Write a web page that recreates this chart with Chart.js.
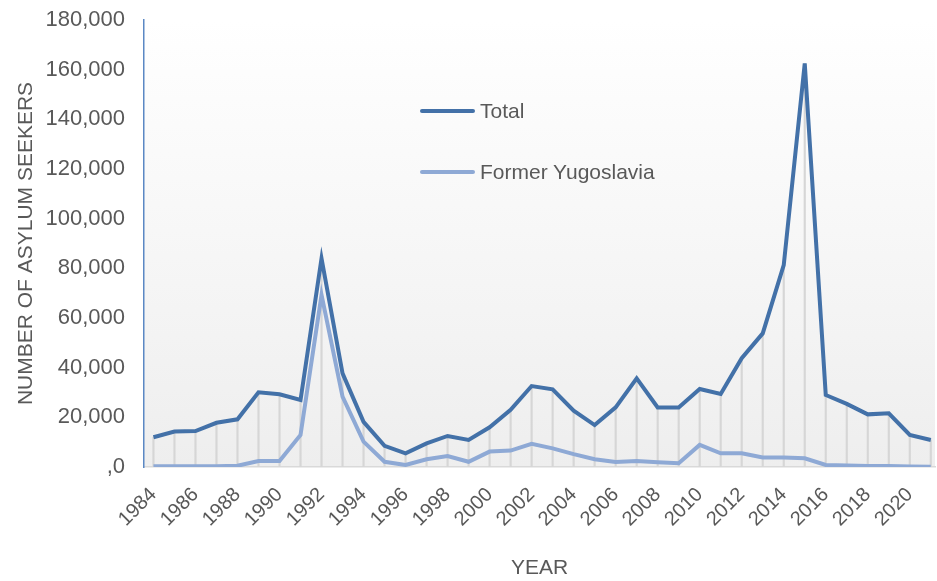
<!DOCTYPE html>
<html>
<head>
<meta charset="utf-8">
<script src="https://cdn.jsdelivr.net/npm/chart.js@4"></script>
<style>
  html, body { margin: 0; padding: 0; background: #fff; }
  #wrap { position: relative; width: 937px; height: 581px; }
  #legend { position: absolute; left: 420px; top: 0; font-family: "Liberation Sans", Arial, sans-serif; font-size: 21px; color: #595959; }
  .item { position: absolute; left: 0; white-space: nowrap; display: flex; align-items: center; }
  .swatch { display: inline-block; width: 55px; height: 4px; border-radius: 2px; margin-right: 5px; }
</style>
</head>
<body>
<div id="wrap">
  <canvas id="chart" width="937" height="581"></canvas>
  <div id="legend"></div>
</div>
<script>
// data
const years = [1984, 1985, 1986, 1987, 1988, 1989, 1990, 1991, 1992, 1993,
  1994, 1995, 1996, 1997, 1998, 1999, 2000, 2001, 2002, 2003,
  2004, 2005, 2006, 2007, 2008, 2009, 2010, 2011, 2012, 2013,
  2014, 2015, 2016, 2017, 2018, 2019, 2020, 2021]

const total = [12000, 14300, 14500, 17800, 19200, 30100, 29300, 27000, 84000, 37700,
  18200, 8500, 5500, 9500, 12500, 10900, 16000, 23000, 32600, 31300,
  22700, 16900, 24000, 35700, 24000, 24000, 31400, 29400, 43800, 53800,
  81300, 162500, 29000, 25400, 21200, 21600, 12900, 10900]

const yugoslavia = [300, 300, 300, 300, 500, 2400, 2400, 12900, 69300, 28300,
  10200, 2100, 800, 3100, 4400, 2100, 6200, 6600, 9300, 7500,
  5200, 3100, 2000, 2400, 1900, 1500, 8900, 5500, 5500, 3800,
  3800, 3500, 800, 600, 400, 400, 200, 100]

const tickYears = [1984, 1986, 1988, 1990, 1992, 1994, 1996, 1998, 2000, 2002,
  2004, 2006, 2008, 2010, 2012, 2014, 2016, 2018, 2020]

const seriesNames = ['Total', 'Former Yugoslavia']
const seriesColors = ['#4371a8', '#8ea9d5']

const font = "'Liberation Sans', Arial, sans-serif"
const grey = '#595959'

function points(vals) {
    return vals.map((v, i) => ({ x: years[i], y: v }))
}

// soft white-to-grey fill behind the plot
const plotBg = {
    id: 'plotBg',
    beforeDraw(chart) {
        const a = chart.chartArea
        const ctx = chart.ctx
        const g = ctx.createLinearGradient(0, a.top, 0, a.bottom)
        g.addColorStop(0, '#ffffff')
        g.addColorStop(1, '#eeeeee')
        ctx.save()
        ctx.fillStyle = g
        ctx.fillRect(a.left, a.top, a.right - a.left, a.bottom - a.top)
        ctx.restore()
    }
}

new Chart('chart', {
    type: 'line',
    data: {
        datasets: [
            {
                label: seriesNames[0],
                data: points(total),
                borderColor: seriesColors[0],
                borderWidth: 4,
                pointRadius: 0,
                tension: 0,
                order: 0
            },
            {
                label: seriesNames[1],
                data: points(yugoslavia),
                borderColor: seriesColors[1],
                borderWidth: 4,
                pointRadius: 0,
                tension: 0,
                order: 1
            },
            {
                // drop lines from Total to the axis
                type: 'bar',
                label: 'drop',
                data: points(total),
                backgroundColor: '#d6d6d6',
                barThickness: 1.5,
                order: 2
            }
        ]
    },
    options: {
        responsive: false,
        animation: false,
        layout: { padding: { top: 20, right: 2, left: 0, bottom: 0 } },
        plugins: {
            legend: { display: false },
            tooltip: { enabled: false }
        },
        scales: {
            x: {
                type: 'linear',
                offset: false,
                min: 1983.55,
                max: 2021.2,
                afterBuildTicks: (scale) => {
                    scale.ticks = tickYears.map(v => ({ value: v }))
                },
                afterFit: (scale) => {
                    scale.height = 114
                    scale.paddingLeft = 0
                    scale.paddingRight = 0
                },
                grid: { display: false, drawTicks: false, offset: false },
                border: { display: true, color: '#d9d9d9', width: 1.5 },
                ticks: {
                    autoSkip: false,
                    minRotation: 45,
                    maxRotation: 45,
                    padding: 16,
                    color: grey,
                    font: { family: font, size: 20 },
                    callback: (v) => String(v)
                },
                title: {
                    display: true,
                    text: 'YEAR',
                    color: grey,
                    font: { family: font, size: 21 },
                    padding: { top: 0, bottom: 0 }
                }
            },
            y: {
                min: 0,
                max: 180000,
                afterFit: (scale) => {
                    scale.width = 144
                    scale.paddingTop = 0
                    scale.paddingBottom = 0
                },
                grid: { display: false, drawTicks: false },
                border: { display: true, color: '#5b88c4', width: 1.5 },
                ticks: {
                    stepSize: 20000,
                    padding: 19,
                    color: grey,
                    font: { family: font, size: 22 },
                    callback: (v) => v === 0 ? ',0' : v.toLocaleString('en-US')
                },
                title: {
                    display: true,
                    text: 'NUMBER OF ASYLUM SEEKERS',
                    color: grey,
                    font: { family: font, size: 21 },
                    padding: { top: 14, bottom: 0 }
                }
            }
        }
    },
    plugins: [plotBg]
})

// legend placed inside the plot, as in the original
const legend = document.getElementById('legend')
const legendTops = [99, 160]
seriesNames.forEach((name, i) => {
    const item = document.createElement('div')
    item.className = 'item'
    item.style.top = legendTops[i] + 'px'
    item.innerHTML = `<span class="swatch" style="background:${seriesColors[i]}"></span><span>${name}</span>`
    legend.appendChild(item)
})
</script>
</body>
</html>
